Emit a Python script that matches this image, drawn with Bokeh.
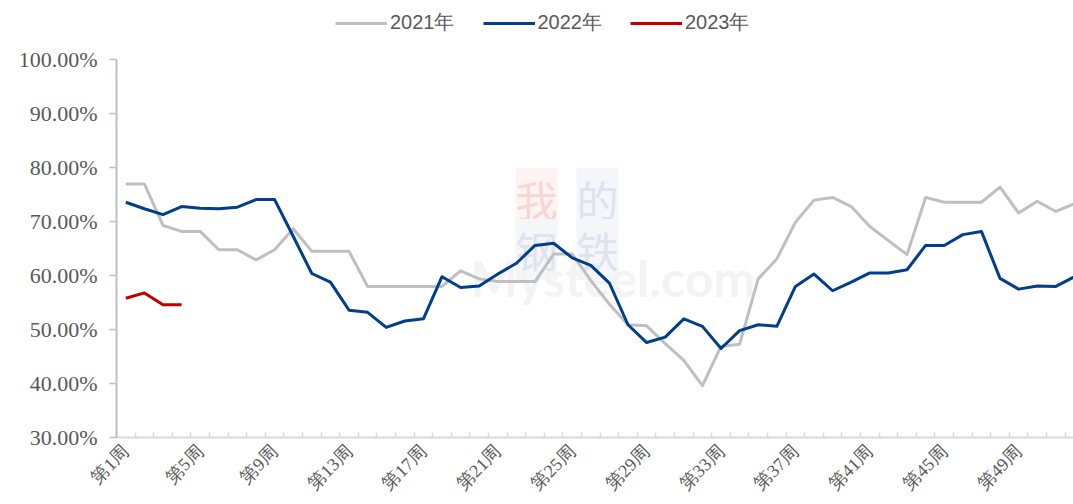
import math
from bokeh.plotting import figure
from bokeh.models import Range1d, FixedTicker, PrintfTickFormatter, Label, ColumnDataSource
from bokeh.embed import file_html
from bokeh.resources import INLINE

weeks = list(range(1, 53))
y2021 = [77.0, 77.0, 69.3, 68.2, 68.2, 64.8, 64.8, 62.9, 64.8, 68.7,
         64.5, 64.5, 64.5, 58.0, 58.0, 58.0, 58.0, 58.0, 60.9, 59.4,
         58.9, 58.9, 58.9, 64.0, 64.0, 59.1, 54.7, 50.9, 50.7, 47.4,
         44.3, 39.6, 46.9, 47.3, 59.4, 63.1, 69.9, 74.0, 74.5, 72.8,
         69.1, 66.5, 63.9, 74.5, 73.6, 73.6, 73.6, 76.4, 71.6, 73.8,
         71.9, 73.3]
y2022 = [73.6, 72.4, 71.3, 72.8, 72.5, 72.4, 72.7, 74.1, 74.1, 67.3,
         60.4, 58.8, 53.6, 53.2, 50.4, 51.6, 52.0, 59.8, 57.8, 58.1,
         60.3, 62.3, 65.6, 66.0, 63.3, 61.9, 58.6, 50.9, 47.6, 48.6,
         52.0, 50.6, 46.5, 49.8, 50.9, 50.6, 58.0, 60.3, 57.2, 58.8,
         60.5, 60.5, 61.1, 65.6, 65.6, 67.6, 68.2, 59.5, 57.5, 58.1,
         58.0, 59.8]
weeks2023 = [1, 2, 3, 4]
y2023 = [55.8, 56.8, 54.6, 54.6]

series_names = ["2021年", "2022年", "2023年"]
series_colors = ["#bfbfbf", "#003f8c", "#c00000"]

tick_weeks = list(range(1, 53, 4))
tick_labels = ["第%d周" % w for w in tick_weeks]
y_ticks = [30, 40, 50, 60, 70, 80, 90, 100]

# frame spans the full top area (legend lives inside it); axis bounded to 30-100
p = figure(width=1073, height=504, output_backend="svg", toolbar_location=None,
           x_range=Range1d(0.5, 51.95), y_range=Range1d(30, 111.0),
           min_border_left=116, min_border_right=0, min_border_top=0,
           min_border_bottom=67)
p.outline_line_color = None
p.grid.visible = False
p.background_fill_color = "white"
p.border_fill_color = "white"

# watermark (decoration)
wm = [("我", 420, 239, "#f8d6d6", "#fdf3f3"), ("的", 481, 239, "#dde3ef", "#f4f6fa"),
      ("钢", 420, 188, "#dde3ef", "#f4f6fa"), ("铁", 481, 188, "#dde3ef", "#f4f6fa")]
for ch, sx, sy, c, bg in wm:
    p.add_layout(Label(x=sx, y=sy, x_units="screen", y_units="screen", text=ch,
                       text_font="Noto Sans CJK SC", text_font_size="42px",
                       text_color=c, background_fill_color=bg,
                       text_align="center", text_baseline="middle", level="underlay"))
p.add_layout(Label(x=354, y=160, x_units="screen", y_units="screen", text="Mysteel.com",
                   text_font="Lato", text_font_style="bold", text_font_size="50px",
                   text_color="#f3f3f3", text_align="left", text_baseline="middle",
                   level="underlay"))

src21 = ColumnDataSource(dict(x=weeks, y=y2021))
src22 = ColumnDataSource(dict(x=weeks, y=y2022))
src23 = ColumnDataSource(dict(x=weeks2023, y=y2023))
for src, name, col in zip([src21, src22, src23], series_names, series_colors):
    p.line("x", "y", source=src, line_color=col, line_width=3, line_join="round",
           legend_label=name)

# x axis
xa = p.xaxis[0]
xa.ticker = FixedTicker(ticks=tick_weeks, minor_ticks=[w + 0.5 for w in range(0, 52)])
xa.major_label_overrides = {w: lab for w, lab in zip(tick_weeks, tick_labels)}
xa.major_tick_line_color = None
xa.minor_tick_in = 5
xa.minor_tick_out = 0
xa.minor_tick_line_color = "#d9d9d9"
xa.minor_tick_line_width = 1.5
xa.axis_line_color = "#d9d9d9"
xa.axis_line_width = 2
xa.major_label_orientation = math.pi / 4
xa.major_label_text_font = "Liberation Serif"
xa.major_label_text_font_size = "18px"
xa.major_label_text_color = "#595959"
xa.major_label_standoff = 5

# y axis
ya = p.yaxis[0]
ya.bounds = (30, 100)
ya.ticker = FixedTicker(ticks=y_ticks)
ya.formatter = PrintfTickFormatter(format="%.2f%%")
ya.major_tick_in = 0
ya.major_tick_out = 7
ya.major_tick_line_color = "#bfbfbf"
ya.major_tick_line_width = 1.5
ya.minor_tick_line_color = None
ya.axis_line_color = "#bfbfbf"
ya.axis_line_width = 2
ya.major_label_text_font = "Liberation Serif"
ya.major_label_text_font_size = "22px"
ya.major_label_text_color = "#595959"
ya.major_label_standoff = 12

lg = p.legend[0]
lg.location = (219, 401)
lg.orientation = "horizontal"
lg.glyph_width = 52
lg.glyph_height = 20
lg.label_standoff = 3
lg.spacing = 28
lg.padding = 0
lg.margin = 0
lg.border_line_color = None
lg.background_fill_alpha = 0
lg.label_text_font = "Liberation Sans"
lg.label_text_font_size = "20px"
lg.label_text_color = "#595959"

open("out.html", "w").write(file_html(p, INLINE))
